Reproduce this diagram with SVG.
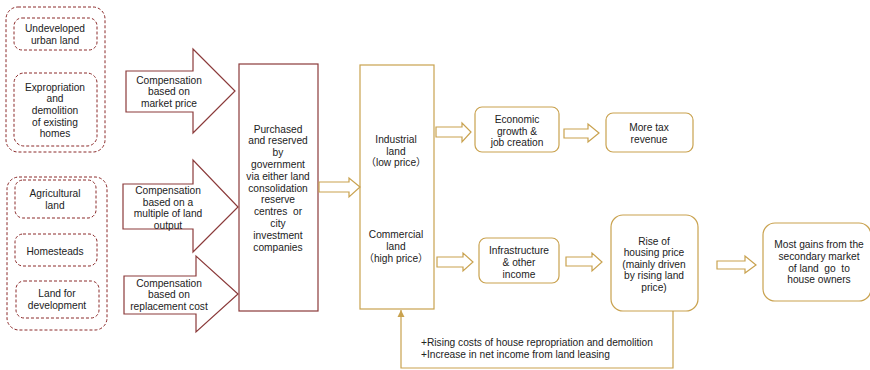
<svg xmlns="http://www.w3.org/2000/svg" width="870" height="370" viewBox="0 0 870 370">
<defs>
<style>
text{font-family:"Liberation Sans",Arial,"Noto Sans CJK SC",sans-serif;font-size:10.2px;fill:#222;text-anchor:middle;white-space:pre}
.dash{fill:#fff;stroke:#8b2a2a;stroke-width:1;stroke-dasharray:3,2}
.red{fill:#fff;stroke:#8b3a3a;stroke-width:1.2}
.gold{fill:#fff;stroke:#c9a24f;stroke-width:1.2}
.goldline{fill:none;stroke:#c9a24f;stroke-width:1.2}
.lt{text-anchor:start}
</style>
<marker id="ah" viewBox="0 0 10 10" refX="10" refY="5" markerWidth="6" markerHeight="6" orient="auto">
<path d="M0,0 L10,5 L0,10 z" fill="#c9a24f"/>
</marker>
</defs>
<rect width="870" height="370" fill="#fff"/>

<g id="group-urban">
<rect class="dash" x="6" y="7" width="99" height="145" rx="12"/>
<g id="undeveloped"><rect class="dash" x="14" y="18" width="83" height="32" rx="8"/>
<text x="55" y="32">Undeveloped</text><text x="55" y="44">urban land</text></g>
<g id="expropriation"><rect class="dash" x="14" y="73" width="83" height="73" rx="10"/>
<text x="55" y="90.5">Expropriation</text><text x="55" y="102">and</text><text x="55" y="114">demolition</text><text x="55" y="125.5">of existing</text><text x="55" y="137">homes</text></g>
</g>

<g id="group-rural">
<rect class="dash" x="7" y="177" width="100" height="153" rx="12"/>
<g id="agricultural"><rect class="dash" x="15" y="180" width="81" height="38" rx="8"/>
<text x="55" y="196.5">Agricultural</text><text x="55" y="209">land</text></g>
<g id="homesteads"><rect class="dash" x="15" y="234" width="82" height="32" rx="8"/>
<text x="55" y="254.5">Homesteads</text></g>
<g id="landdev"><rect class="dash" x="16" y="281" width="83" height="37" rx="8"/>
<text x="57" y="296.5">Land for</text><text x="57" y="308.5">development</text></g>
</g>

<g id="comp-market">
<polygon class="red" points="126,71 193,71 193,49 235,91 193,133 193,112 126,112"/>
<text x="169" y="83.5">Compensation</text><text x="169" y="95">based on</text><text x="169" y="106.5">market price</text>
</g>
<g id="comp-multiple">
<polygon class="red" points="123,184 193,184 193,160 238,207 193,252 193,229 123,229"/>
<text x="168" y="193.5">Compensation</text><text x="168" y="205.5">based on a</text><text x="168" y="217">multiple of land</text><text x="168" y="228.5">output</text>
</g>
<g id="comp-replacement">
<polygon class="red" points="124,276 196,276 196,256 238,294 196,332 196,314 124,314"/>
<text x="169" y="286.5">Compensation</text><text x="169" y="297.5">based on</text><text x="169" y="309.5">replacement cost</text>
</g>

<g id="government">
<rect class="red" x="239" y="64" width="79" height="247"/>
<text x="278" y="132.5">Purchased</text>
<text x="278" y="144.3">and reserved</text>
<text x="278" y="156.1">by</text>
<text x="278" y="167.9">government</text>
<text x="278" y="179.7">via either land</text>
<text x="278" y="191.5">consolidation</text>
<text x="278" y="203.3">reserve</text>
<text x="278" y="215.1">centres  or</text>
<text x="278" y="226.9">city</text>
<text x="278" y="238.7">investment</text>
<text x="278" y="250.5">companies</text>
</g>

<g id="land">
<rect class="gold" x="360" y="65" width="74" height="244"/>
<text x="396" y="142.5">Industrial</text>
<text x="396" y="154.5">land</text>
<text x="396" y="166">（low price）</text>
<text x="396" y="237.5">Commercial</text>
<text x="396" y="249.5">land</text>
<text x="396" y="261.5">（high price）</text>
</g>

<g id="economic">
<rect class="gold" x="475" y="107" width="84" height="45" rx="7"/>
<text x="517" y="122.5">Economic</text><text x="517" y="134.5">growth &amp;</text><text x="517" y="145.5">job creation</text>
</g>
<g id="tax">
<rect class="gold" x="606" y="113" width="87" height="39" rx="7"/>
<text x="649" y="130.5">More tax</text><text x="649" y="142.5">revenue</text>
</g>
<g id="infrastructure">
<rect class="gold" x="479" y="238" width="80" height="45" rx="7"/>
<text x="519" y="253.5">Infrastructure</text><text x="519" y="265.5">&amp; other</text><text x="519" y="277.5">income</text>
</g>
<g id="housing">
<rect class="gold" x="611" y="215" width="87" height="96" rx="12"/>
<text x="654" y="244.5">Rise of</text><text x="654" y="256">housing price</text><text x="654" y="267.5">(mainly driven</text><text x="654" y="279">by rising land</text><text x="654" y="290.5">price)</text>
</g>
<g id="owners">
<rect class="gold" x="763" y="223" width="108" height="78" rx="12"/>
<text x="819" y="247.5">Most gains from the</text><text x="819" y="259.5">secondary market</text><text x="819" y="271.5">of land  go  to</text><text x="819" y="283">house owners</text>
</g>

<g id="connectors">
<polygon class="gold" points="319,182 349,182 349,178 360,187 349,197 349,192 319,192"/>
<polygon class="gold" points="436,127 462,127 462,123 471,132 462,142 462,137 436,137"/>
<polygon class="gold" points="564,129 588,129 588,124 599,133 588,142 588,138 564,138"/>
<polygon class="gold" points="437,257 463,257 463,253 473,262 463,271 463,267 437,267"/>
<polygon class="gold" points="566,257 592,257 592,253 602,262 592,271 592,266 566,266"/>
<polygon class="gold" points="717,261 745,261 745,256 756,265 745,273 745,269 717,269"/>
<path class="goldline" d="M673,311 V368 H401 V310" marker-end="url(#ah)"/>
<text class="lt" x="421" y="345.5">+Rising costs of house repropriation and demolition</text>
<text class="lt" x="421" y="357.5">+Increase in net income from land leasing</text>
</g>
</svg>
